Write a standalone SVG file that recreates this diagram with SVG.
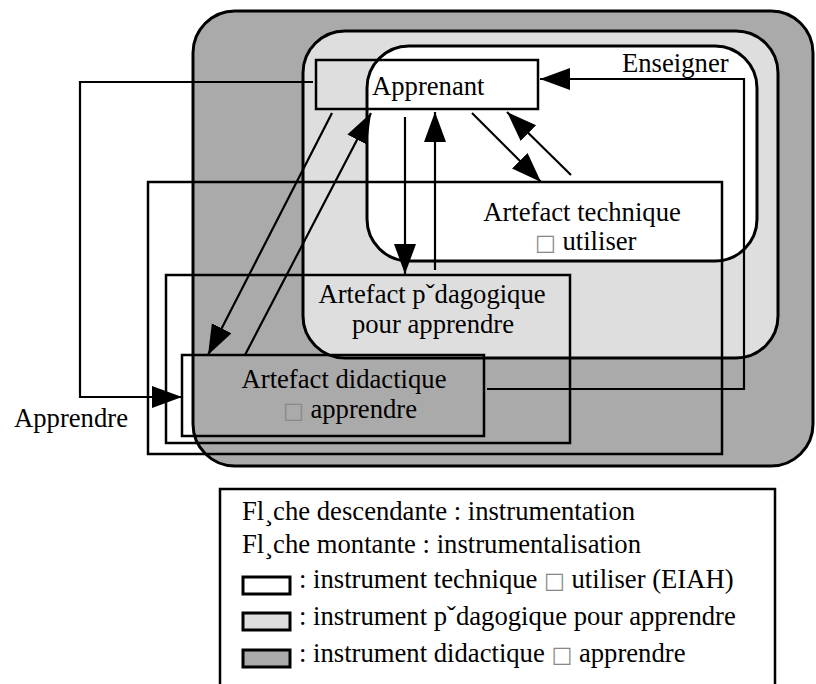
<svg xmlns="http://www.w3.org/2000/svg" width="816" height="684" viewBox="0 0 816 684">
  <style>
    .zone { stroke: #000; stroke-width: 3; }
    .box { fill: none; stroke: #000; stroke-width: 2.5; }
    .swatch { stroke: #000; stroke-width: 3; }
    .link { fill: none; stroke: #000; stroke-width: 2.2; }
    text { font-family: "Liberation Serif", "Times New Roman", serif; font-size: 26.67px; fill: #000; }
    .tofu { fill: #888; font-family: "DejaVu Sans", sans-serif; font-size: 22px; }
  </style>
  <defs>
    <marker id="head" markerUnits="userSpaceOnUse" markerWidth="32" markerHeight="24" refX="30" refY="11" orient="auto">
      <path d="M0,0 L30,11 L0,22 Z" fill="#000"/>
    </marker>
  </defs>

  <!-- nested instrument zones -->
  <g id="zone-didactique">
    <rect class="zone" x="193" y="11" width="620" height="455" rx="42" fill="#aaaaaa"/>
  </g>
  <g id="zone-pedagogique">
    <rect class="zone" x="303" y="31" width="475" height="327" rx="42" fill="#dedede"/>
  </g>
  <g id="zone-technique">
    <rect class="zone" x="367" y="46" width="390" height="215" rx="42" fill="#ffffff"/>
  </g>

  <!-- artefacts and learner -->
  <g id="artefact-technique">
    <rect class="box" x="148" y="182" width="574" height="272"/>
    <text x="582" y="221" text-anchor="middle">Artefact technique</text>
    <text x="535" y="250"><tspan class="tofu">□</tspan> utiliser</text>
  </g>
  <g id="artefact-pedagogique">
    <rect class="box" x="166" y="275" width="404" height="168"/>
    <text x="432" y="303" text-anchor="middle">Artefact pˇdagogique</text>
    <text x="433" y="333" text-anchor="middle">pour apprendre</text>
  </g>
  <g id="artefact-didactique">
    <rect class="box" x="182" y="355" width="302" height="81"/>
    <text x="344" y="388" text-anchor="middle">Artefact didactique</text>
    <text x="283" y="418"><tspan class="tofu">□</tspan> apprendre</text>
  </g>
  <g id="apprenant">
    <rect class="box" x="316" y="60" width="222" height="49"/>
    <text x="372" y="95">Apprenant</text>
  </g>

  <!-- connectors -->
  <g id="connectors">
    <polyline class="link" points="313,82 80,82 80,397 182,397" marker-end="url(#head)"/>
    <polyline class="link" points="487,389 744,389 744,79 540,79" marker-end="url(#head)"/>
    <line class="link" x1="332" y1="113" x2="208" y2="355" marker-end="url(#head)"/>
    <line class="link" x1="245" y1="355" x2="371" y2="113" marker-end="url(#head)"/>
    <line class="link" x1="405" y1="117" x2="405" y2="274" marker-end="url(#head)"/>
    <line class="link" x1="435" y1="270" x2="435" y2="112" marker-end="url(#head)"/>
    <line class="link" x1="472" y1="113" x2="541" y2="182" marker-end="url(#head)"/>
    <line class="link" x1="571" y1="175" x2="507" y2="112" marker-end="url(#head)"/>
    <text x="622" y="72">Enseigner</text>
    <text x="14" y="427">Apprendre</text>
  </g>

  <!-- legend -->
  <g id="legend">
    <polyline class="box" points="220,690 220,489 775,489 775,690"/>
    <text x="242" y="520">Fl¸che descendante : instrumentation</text>
    <text x="242" y="553">Fl¸che montante : instrumentalisation</text>
    <rect class="swatch" x="243" y="577" width="47" height="17" fill="#ffffff"/>
    <text x="299" y="588">: instrument technique <tspan class="tofu">□</tspan> utiliser (EIAH)</text>
    <rect class="swatch" x="243" y="613" width="47" height="17" fill="#dedede"/>
    <text x="299" y="625">: instrument pˇdagogique pour apprendre</text>
    <rect class="swatch" x="243" y="650" width="47" height="17" fill="#aaaaaa"/>
    <text x="299" y="662">: instrument didactique <tspan class="tofu">□</tspan> apprendre</text>
  </g>
</svg>
